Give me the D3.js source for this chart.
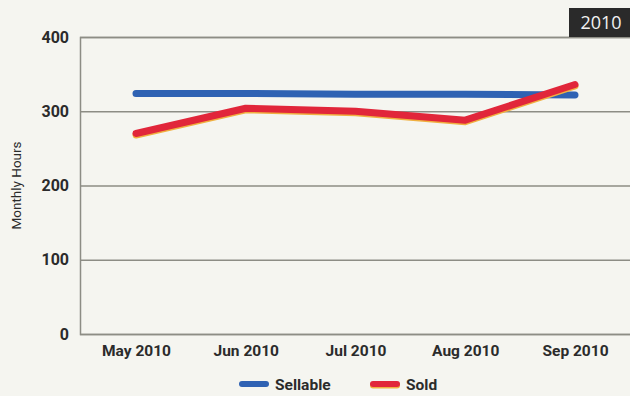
<!DOCTYPE html>
<html>
<head>
<meta charset="utf-8">
<script src="https://cdn.jsdelivr.net/npm/d3@7"></script>
<style>
  html, body { margin: 0; padding: 0; background: #f5f5ef; }
  svg { display: block; }
  text { font-family: Roboto, "Liberation Sans", sans-serif; fill: #2b2b2b; }
</style>
</head>
<body>
<svg id="chart" width="630" height="396"></svg>
<script>
// Monthly hours, May–Sep 2010
const months = ["May 2010", "Jun 2010", "Jul 2010", "Aug 2010", "Sep 2010"];
const sellable = [324, 324, 323, 323, 322];
const sold = [270, 304, 300, 288, 336];
const yTicks = [0, 100, 200, 300, 400];
const seriesNames = ["Sellable", "Sold"];
const seriesColors = ["#2f62b3", "#e1263a"];

const W = 630, H = 396;
const margin = { top: 37, right: 0, bottom: 62, left: 80 };
const svg = d3.select("#chart");
const labelFont = "Roboto, 'Liberation Sans', sans-serif";

svg.append("rect").attr("width", W).attr("height", H).attr("fill", "#f5f5f0");

const x = d3.scalePoint().domain(months).range([136, 575]);
const y = d3.scaleLinear().domain([0, 400]).range([H - margin.bottom, margin.top]);

// Horizontal gridlines and left frame
const yAxis = d3.axisLeft(y).tickValues(yTicks).tickSize(-(W - margin.left)).tickPadding(11);
const gy = svg.append("g").attr("transform", `translate(${margin.left},0)`).call(yAxis);
gy.select(".domain").attr("stroke", "#8d8d85").attr("stroke-width", 1.5);
gy.selectAll(".tick line").attr("stroke", "#8d8d85").attr("stroke-width", 1.5);
gy.selectAll(".tick text")
  .attr("font-size", 16).attr("font-weight", "bold")
  .style("font-family", labelFont)
  .attr("fill", "#2b2b2b");

// Month labels
const xAxis = d3.axisBottom(x).tickSize(0).tickPadding(11);
const gx = svg.append("g").attr("transform", `translate(0,${H - margin.bottom})`).call(xAxis);
gx.select(".domain").remove();
gx.selectAll(".tick text")
  .attr("font-size", 15.5).attr("font-weight", "bold")
  .style("font-family", labelFont)
  .attr("fill", "#2b2b2b");

// Axis title
svg.append("text")
  .attr("transform", `translate(21,${(margin.top + H - margin.bottom) / 2}) rotate(-90)`)
  .attr("text-anchor", "middle")
  .attr("font-size", 13.5)
  .text("Monthly Hours");

const line = d3.line().x((d, i) => x(months[i])).y(d => y(d));

// Sellable
svg.append("path").datum(sellable)
  .attr("d", line).attr("fill", "none")
  .attr("stroke", seriesColors[0]).attr("stroke-width", 7)
  .attr("stroke-linecap", "round").attr("stroke-linejoin", "round");

// Sold, with a warm edge underneath
svg.append("path").datum(sold)
  .attr("d", line).attr("fill", "none")
  .attr("transform", "translate(0,1.5)")
  .attr("stroke", "#f0b040").attr("stroke-width", 7)
  .attr("stroke-linecap", "round").attr("stroke-linejoin", "round");
svg.append("path").datum(sold)
  .attr("d", line).attr("fill", "none")
  .attr("stroke", seriesColors[1]).attr("stroke-width", 7)
  .attr("stroke-linecap", "round").attr("stroke-linejoin", "round");

// Year badge
svg.append("rect").attr("x", 569).attr("y", 8).attr("width", 61).attr("height", 29).attr("fill", "#2a2a2a");
svg.append("text").attr("x", 601).attr("y", 29)
  .attr("text-anchor", "middle").attr("font-size", 18)
  .style("font-family", "'Open Sans', 'DejaVu Sans', sans-serif")
  .style("fill", "#f2f2f2")
  .text("2010");

// Legend
const legendX = [239, 370];
const lg = svg.append("g");
seriesNames.forEach((name, i) => {
  const g = lg.append("g").attr("transform", `translate(${legendX[i]},384)`);
  if (i === 1) {
    g.append("line").attr("x1", 3).attr("x2", 27).attr("y1", 1.5).attr("y2", 1.5)
      .attr("stroke", "#f0b040").attr("stroke-width", 6).attr("stroke-linecap", "round");
  }
  g.append("line").attr("x1", 3).attr("x2", 27).attr("y1", 0).attr("y2", 0)
    .attr("stroke", seriesColors[i]).attr("stroke-width", 6).attr("stroke-linecap", "round");
  g.append("text").attr("x", 36).attr("y", 5.5)
    .attr("font-size", 15.5).attr("font-weight", "bold")
    .text(name);
});
</script>
</body>
</html>
